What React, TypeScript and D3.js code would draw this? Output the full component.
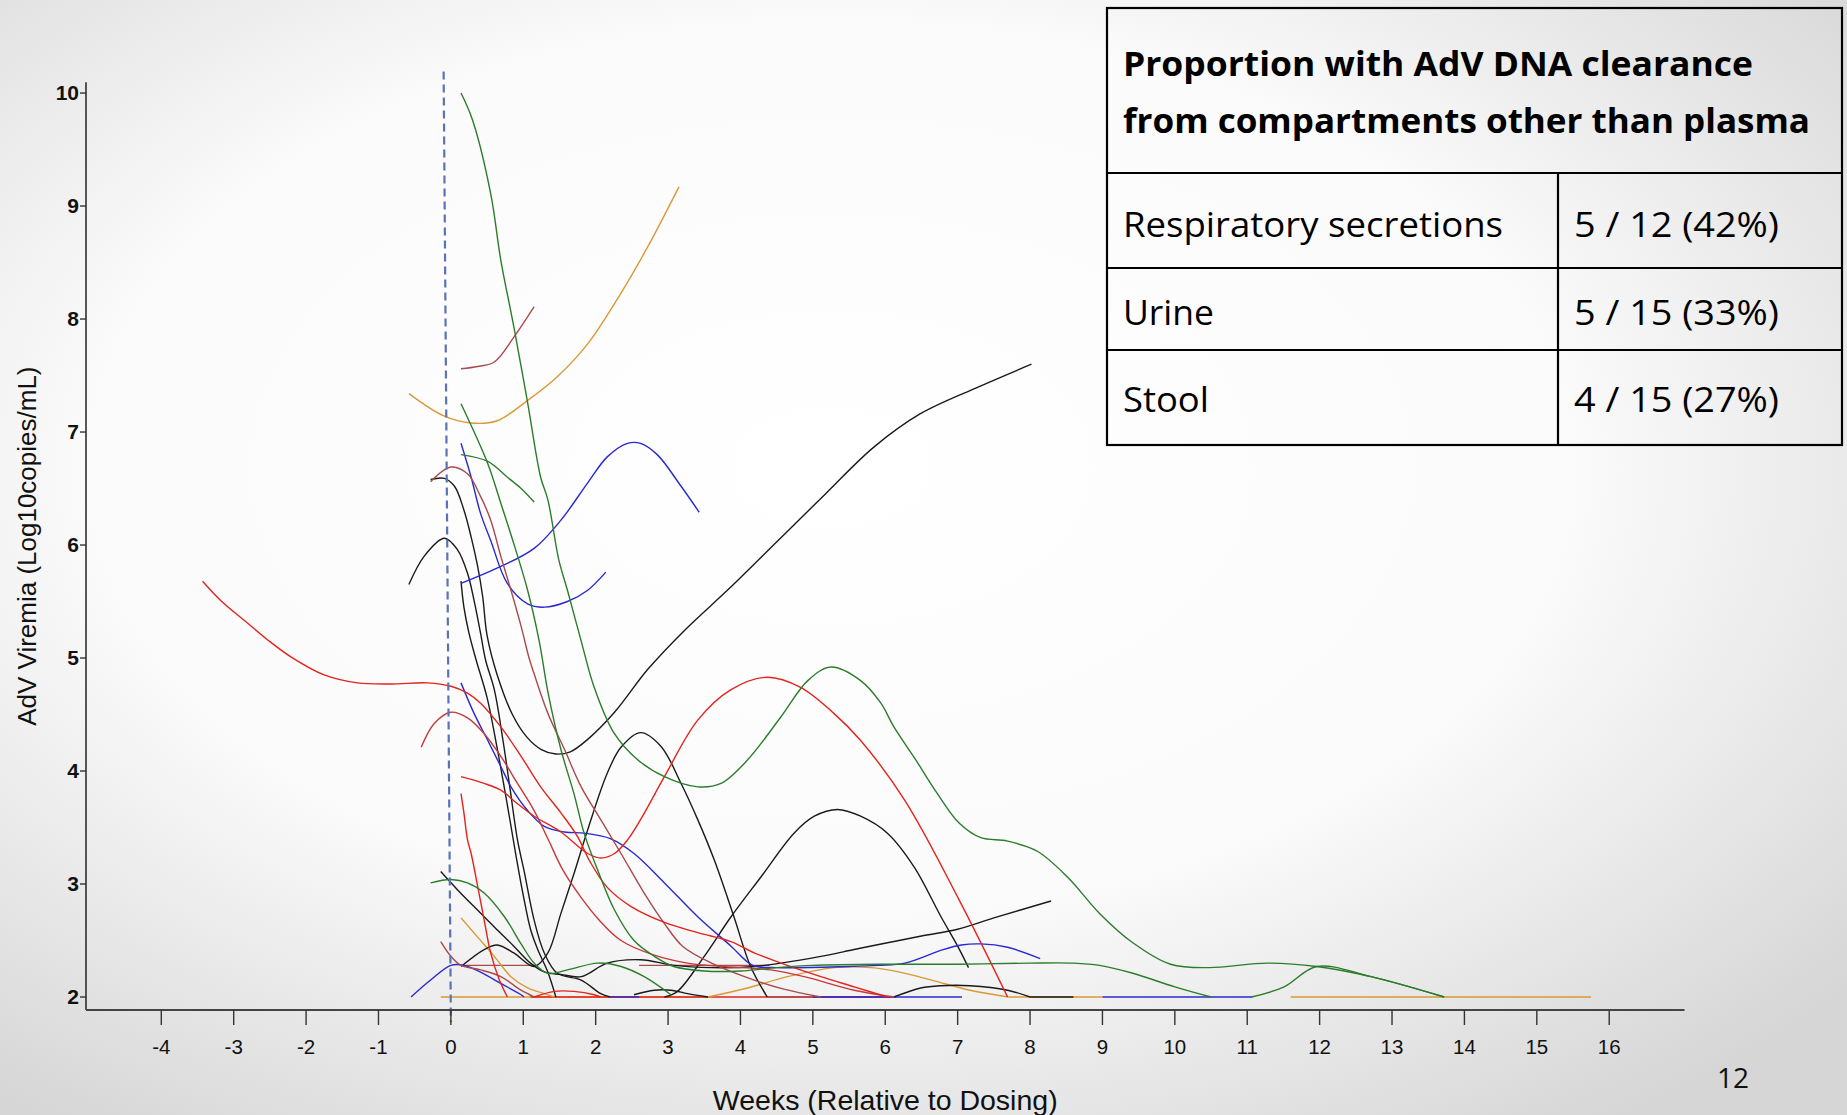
import React from 'react';
import * as d3 from 'd3';

type Pt = [number, number];

// ---------- axis ticks ----------
const weekTicks: number[] = [-4, -3, -2, -1, 0, 1, 2, 3, 4, 5, 6, 7, 8, 9, 10, 11, 12, 13, 14, 15, 16];
const viremiaTicks: number[] = [2, 3, 4, 5, 6, 7, 8, 9, 10];

// ---------- table ----------
const tableTitle: string[] = ['Proportion with AdV DNA clearance', 'from compartments other than plasma'];
const compartments: string[] = ['Respiratory secretions', 'Urine', 'Stool'];
const clearance: string[] = ['5 / 12 (42%)', '5 / 15 (33%)', '4 / 15 (27%)'];

// ---------- patient curves (week, log10 copies/mL) ----------
const greenTall: Pt[] = [[0.14,10.0],[0.3,9.76],[0.55,9.11],[0.69,8.52],[0.87,7.93],[1.06,7.26],[1.24,6.6],[1.34,6.4],[1.49,5.87],[1.61,5.6],[1.8,5.15],[1.98,4.74],[2.25,4.34],[2.58,4.1],[2.95,3.95],[3.41,3.86],[3.73,3.89],[4.1,4.1],[4.56,4.48],[4.93,4.8],[5.25,4.92],[5.66,4.8],[5.94,4.6],[6.12,4.39],[6.42,4.1],[6.72,3.8],[7.02,3.54],[7.32,3.41],[7.69,3.38],[8.1,3.29],[8.52,3.06],[8.96,2.74],[9.42,2.48],[9.94,2.29],[10.47,2.26],[11.28,2.3],[11.96,2.27],[12.71,2.18],[13.72,2.0]];
const greenFall: Pt[] = [[0.14,7.25],[0.51,6.72],[0.69,6.37],[0.87,6.01],[1.06,5.6],[1.22,5.15],[1.34,4.7],[1.52,4.19],[1.7,3.8],[1.84,3.45],[2.03,3.12],[2.26,2.77],[2.53,2.5],[2.81,2.36],[3.08,2.27],[3.5,2.23],[4.0,2.23],[4.5,2.26],[5.0,2.28],[6.0,2.29],[7.0,2.29],[8.0,2.3],[8.6,2.3],[8.96,2.28],[9.42,2.21],[10.0,2.09],[10.5,2.0]];
const greenShort: Pt[] = [[0.14,6.8],[0.51,6.74],[0.78,6.6],[0.97,6.5],[1.15,6.38]];
const greenLow: Pt[] = [[-0.28,3.01],[0,3.04],[0.23,3.01],[0.46,2.92],[0.74,2.71],[0.97,2.47],[1.15,2.3],[1.34,2.21],[1.61,2.24],[2.03,2.3],[2.35,2.27],[2.67,2.18],[3.04,2.02]];
const greenLate: Pt[] = [[11.06,2.0],[11.51,2.09],[11.96,2.27],[12.71,2.18],[13.72,2.0]];

const redLong: Pt[] = [[-3.43,5.68],[-3.18,5.51],[-2.81,5.31],[-2.53,5.16],[-2.21,5.01],[-1.75,4.85],[-1.29,4.78],[-0.83,4.77],[-0.32,4.78],[0,4.75],[0.23,4.69],[0.41,4.6],[0.69,4.39],[0.97,4.13],[1.24,3.86],[1.52,3.63],[1.75,3.42],[1.92,3.2],[2.16,2.97],[2.49,2.8],[2.95,2.66],[3.41,2.57],[3.87,2.49],[4.19,2.39],[4.56,2.3],[5.11,2.18],[5.57,2.09],[6.03,2.0]];
const redPeak: Pt[] = [[-0.41,4.21],[-0.23,4.42],[0,4.52],[0.23,4.47],[0.46,4.33],[0.69,4.13],[0.92,3.89],[1.15,3.65],[1.34,3.4],[1.55,3.12],[1.8,2.88],[2.05,2.68],[2.35,2.5],[2.81,2.37],[3.27,2.3],[3.73,2.27],[4.42,2.24],[4.88,2.18],[5.57,2.06],[6.12,2.0]];
const redHump: Pt[] = [[0.14,3.95],[0.46,3.89],[0.69,3.83],[0.92,3.71],[1.15,3.6],[1.52,3.46],[1.89,3.27],[2.07,3.23],[2.26,3.27],[2.44,3.39],[2.62,3.57],[2.95,3.95],[3.41,4.45],[3.87,4.72],[4.37,4.83],[4.83,4.74],[5.29,4.51],[5.66,4.27],[6.27,3.74],[7.02,2.86],[7.69,2.0]];
const redSteep: Pt[] = [[0.14,3.8],[0.18,3.63],[0.23,3.39],[0.28,3.27],[0.37,2.98],[0.46,2.68],[0.55,2.39],[0.67,2.15],[0.78,2.0]];
const redFloor: Pt[] = [[1.1,2.0],[6.1,2.0]];
const redBump: Pt[] = [[1.15,2.0],[1.43,2.05],[1.7,2.05],[1.98,2.02],[2.07,2.0]];

const brownRise: Pt[] = [[0.14,7.56],[0.37,7.58],[0.6,7.62],[0.87,7.84],[1.15,8.11]];
const brownPeak: Pt[] = [[-0.28,6.56],[0,6.69],[0.23,6.63],[0.41,6.43],[0.55,6.22],[0.69,5.9],[0.83,5.6],[0.97,5.28],[1.08,5.0],[1.15,4.86],[1.34,4.51],[1.57,4.19],[1.8,3.86],[2.07,3.57],[2.35,3.27],[2.67,2.92],[2.95,2.65],[3.2,2.45],[3.6,2.3],[4.19,2.15],[4.6,2.07],[5.11,2.0]];
const brownLow: Pt[] = [[-0.14,2.49],[0,2.36],[0.14,2.28],[0.41,2.24],[0.69,2.18],[0.97,2.06],[1.15,2.0]];
const brownFlatA: Pt[] = [[0.14,2.28],[1.2,2.28]];
const brownFlatB: Pt[] = [[2.6,2.28],[4.4,2.28]];
const brownFloor: Pt[] = [[4.37,2.0],[6.1,2.0]];

const blueHump: Pt[] = [[0.14,5.66],[0.69,5.81],[1.15,5.97],[1.52,6.22],[1.89,6.55],[2.16,6.78],[2.44,6.9],[2.62,6.9],[2.85,6.8],[3.18,6.52],[3.43,6.29]];
const blueDip: Pt[] = [[0.14,6.9],[0.28,6.6],[0.41,6.28],[0.55,6.04],[0.78,5.66],[1.06,5.48],[1.29,5.45],[1.61,5.5],[1.89,5.6],[2.14,5.76]];
const bluePlateau: Pt[] = [[0.14,4.78],[0.32,4.51],[0.51,4.27],[0.69,4.04],[0.83,3.86],[1.06,3.65],[1.29,3.51],[1.57,3.46],[1.84,3.45],[2.21,3.4],[2.53,3.27],[2.95,3.01],[3.41,2.71],[3.87,2.45],[4.17,2.28],[4.5,2.26],[5.5,2.27],[5.9,2.28],[6.27,2.3],[6.8,2.42],[7.05,2.46],[7.32,2.47],[7.69,2.44],[8.14,2.34]];
const blueSmall: Pt[] = [[-0.55,2.0],[-0.28,2.15],[0,2.28],[0.18,2.28],[0.41,2.22],[0.69,2.12],[0.97,2.02],[1.01,2.0]];
const blueFloorA: Pt[] = [[2.2,2.0],[2.6,2.0]];
const blueFloorB: Pt[] = [[5.0,2.0],[7.06,2.0]];
const blueFloorC: Pt[] = [[9.0,2.0],[11.07,2.0]];

const blackValley: Pt[] = [[-0.28,6.58],[-0.09,6.59],[0.05,6.52],[0.18,6.31],[0.28,6.07],[0.37,5.81],[0.44,5.54],[0.5,5.2],[0.64,4.85],[0.85,4.5],[1.05,4.3],[1.25,4.19],[1.45,4.15],[1.65,4.17],[1.89,4.28],[2.26,4.52],[2.72,4.9],[3.22,5.24],[3.87,5.63],[4.52,6.04],[5.17,6.45],[5.83,6.86],[6.48,7.16],[7.29,7.4],[8.02,7.6]];
const blackDropA: Pt[] = [[0.14,5.68],[0.18,5.45],[0.25,5.22],[0.35,4.98],[0.5,4.65],[0.64,4.2],[0.78,3.7],[0.9,3.25],[1.0,2.9],[1.1,2.6],[1.2,2.42],[1.34,2.22],[1.45,2.0]];
const blackDropB: Pt[] = [[-0.58,5.65],[-0.37,5.9],[-0.09,6.06],[0.09,5.96],[0.23,5.75],[0.32,5.51],[0.41,5.22],[0.48,4.98],[0.6,4.72],[0.72,4.27],[0.82,3.83],[0.92,3.39],[1.01,3.12],[1.15,2.68],[1.29,2.39],[1.47,2.21],[1.8,2.15],[2.07,2.03],[2.2,2.0]];
const blackTall: Pt[] = [[0.14,2.27],[0.46,2.42],[0.64,2.46],[0.87,2.39],[1.15,2.27],[1.34,2.39],[1.52,2.74],[1.7,3.09],[1.89,3.48],[2.16,3.98],[2.35,4.21],[2.62,4.34],[2.9,4.22],[3.18,3.89],[3.41,3.57],[3.64,3.21],[3.91,2.71],[4.14,2.27],[4.37,2.0]];
const blackHump: Pt[] = [[2.95,2.0],[3.13,2.05],[3.5,2.36],[3.87,2.71],[4.28,3.06],[4.74,3.45],[5.02,3.6],[5.34,3.66],[5.66,3.6],[6.03,3.45],[6.4,3.15],[6.77,2.71],[7.0,2.45],[7.15,2.26]];
const blackSmall: Pt[] = [[2.53,2.02],[2.81,2.06],[3.04,2.06],[3.27,2.03],[3.55,2.0]];
const blackLow: Pt[] = [[-0.14,3.11],[0.09,2.95],[0.32,2.8],[0.6,2.62],[0.87,2.45],[1.1,2.3],[1.3,2.22],[1.52,2.2],[1.8,2.18],[2.16,2.3],[2.62,2.33],[3.08,2.28],[3.6,2.26],[4.2,2.27],[4.56,2.3],[5.11,2.36],[5.57,2.42],[6.03,2.48],[6.5,2.54],[7.0,2.6],[7.5,2.7],[8.29,2.85]];
const blackLate: Pt[] = [[6.12,2.0],[6.49,2.08],[6.77,2.1],[7.17,2.1],[7.69,2.06],[8.0,2.0]];
const blackFloor: Pt[] = [[8.0,2.0],[8.6,2.0]];

const orangeHigh: Pt[] = [[-0.58,7.34],[-0.09,7.14],[0.28,7.08],[0.64,7.1],[1.06,7.28],[1.47,7.49],[1.89,7.78],[2.35,8.23],[2.72,8.64],[3.15,9.17]];
const orangeDecline: Pt[] = [[0.14,2.7],[0.37,2.53],[0.6,2.36],[0.83,2.18],[1.06,2.08],[1.29,2.03],[1.43,2.0]];
const orangeFloor: Pt[] = [[-0.14,2.0],[1.5,2.0],[3.55,2.0]];
const orangeWave: Pt[] = [[3.55,2.0],[4.1,2.08],[4.65,2.18],[5.3,2.26],[5.8,2.26],[6.2,2.22],[6.64,2.15],[7.17,2.06],[7.7,2.0]];
const orangeFloorB: Pt[] = [[7.7,2.0],[9.0,2.0]];
const orangeFloorC: Pt[] = [[11.6,2.0],[15.75,2.0]];

const GREEN = '#2b7d2b';
const RED = '#e3231c';
const BROWN = '#a84a4e';
const BLUE = '#2828d4';
const BLACK = '#1a1a1a';
const ORANGE = '#d89a34';

const curves: { pts: Pt[]; color: string }[] = [
  { pts: orangeFloor, color: ORANGE },
  { pts: orangeFloorB, color: ORANGE },
  { pts: orangeFloorC, color: ORANGE },
  { pts: redFloor, color: RED },
  { pts: brownFloor, color: BROWN },
  { pts: blueFloorA, color: BLUE },
  { pts: blueFloorB, color: BLUE },
  { pts: blueFloorC, color: BLUE },
  { pts: blackFloor, color: BLACK },
  { pts: brownFlatA, color: BROWN },
  { pts: brownFlatB, color: BROWN },
  { pts: orangeWave, color: ORANGE },
  { pts: orangeDecline, color: ORANGE },
  { pts: orangeHigh, color: ORANGE },
  { pts: blackLate, color: BLACK },
  { pts: blackSmall, color: BLACK },
  { pts: blackLow, color: BLACK },
  { pts: blackHump, color: BLACK },
  { pts: blackTall, color: BLACK },
  { pts: blackDropA, color: BLACK },
  { pts: blackDropB, color: BLACK },
  { pts: blackValley, color: BLACK },
  { pts: blueSmall, color: BLUE },
  { pts: bluePlateau, color: BLUE },
  { pts: blueDip, color: BLUE },
  { pts: blueHump, color: BLUE },
  { pts: brownLow, color: BROWN },
  { pts: brownPeak, color: BROWN },
  { pts: brownRise, color: BROWN },
  { pts: redBump, color: RED },
  { pts: redSteep, color: RED },
  { pts: redHump, color: RED },
  { pts: redPeak, color: '#c8383a' },
  { pts: redLong, color: RED },
  { pts: greenLate, color: GREEN },
  { pts: greenLow, color: GREEN },
  { pts: greenShort, color: GREEN },
  { pts: greenFall, color: GREEN },
  { pts: greenTall, color: GREEN },
];

export default function App() {
  const W = 1847;
  const H = 1115;
  const x = d3.scaleLinear().domain([-5.04, 17.04]).range([86, 1684.5]);
  const y = d3.scaleLinear().domain([1.885, 10.095]).range([1010, 82.3]);
  const line = d3
    .line<Pt>()
    .x((d) => x(d[0]))
    .y((d) => y(d[1]))
    .curve(d3.curveCatmullRom.alpha(0.5));

  const axisFont = "'Liberation Sans', Arial, sans-serif";
  const tableFont = "'Open Sans', 'Noto Sans', sans-serif";
  const [x0, x1] = x.range();
  const [yb, yt] = y.range();

  const tL = 1107, tR = 1842, tTop = 8, colX = 1558;
  const rowLines = [173, 268, 350, 445];
  const rowBase = [237, 325, 412];
  const leftLen = [380, 91, 86];

  return (
    <svg
      width={W}
      height={H}
      viewBox={`0 0 ${W} ${H}`}
      style={{ position: 'absolute', left: 0, top: 0, display: 'block' }}
    >
      <defs>
        <radialGradient id="bg" cx="45%" cy="42%" r="72%">
          <stop offset="0%" stopColor="#ffffff" />
          <stop offset="55%" stopColor="#fbfbfb" />
          <stop offset="100%" stopColor="#d6d6d6" />
        </radialGradient>
      </defs>
      <rect x={0} y={0} width={W} height={H} fill="url(#bg)" />

      {/* curves */}
      <g fill="none" strokeWidth={1.4} strokeLinejoin="round">
        {curves.map((c, i) => (
          <path key={i} d={line(c.pts) || ''} stroke={c.color} />
        ))}
      </g>

      {/* dosing reference line */}
      <line
        x1={x(-0.1)}
        y1={y(10.19)}
        x2={x(0)}
        y2={1022}
        stroke="#5a72b8"
        strokeWidth={2.2}
        strokeDasharray="8 5"
      />

      {/* axes */}
      <line x1={x0} y1={yb} x2={x0} y2={yt} stroke="#222" strokeWidth={1.5} />
      <line x1={x0} y1={yb} x2={x1} y2={yb} stroke="#444" strokeWidth={1.8} />
      {weekTicks.map((t) => (
        <g key={'xt' + t}>
          <line x1={x(t)} x2={x(t)} y1={yb} y2={yb + 15} stroke="#333" strokeWidth={1.4} />
          <text
            x={x(t)}
            y={1054}
            textAnchor="middle"
            fontFamily={axisFont}
            fontSize={20.5}
            fill="#111"
          >
            {t}
          </text>
        </g>
      ))}
      {viremiaTicks.map((t) => (
        <g key={'yt' + t}>
          <line x1={x0 - 6} x2={x0} y1={y(t)} y2={y(t)} stroke="#333" strokeWidth={1.4} />
          <text
            x={79}
            y={y(t) + 7}
            textAnchor="end"
            fontFamily={axisFont}
            fontSize={21}
            fontWeight="bold"
            fill="#111"
          >
            {t}
          </text>
        </g>
      ))}
      <text
        x={(x0 + x1) / 2}
        y={1110}
        textAnchor="middle"
        fontFamily={axisFont}
        fontSize={28.5}
        fill="#111"
      >
        Weeks (Relative to Dosing)
      </text>
      <text
        transform={`translate(36, ${(yb + yt) / 2}) rotate(-90)`}
        textAnchor="middle"
        fontFamily={axisFont}
        fontSize={26}
        fill="#111"
      >
        AdV Viremia (Log10copies/mL)
      </text>

      {/* table */}
      <g stroke="#000" strokeWidth={2.2} fill="none">
        <rect x={tL} y={tTop} width={tR - tL} height={rowLines[3] - tTop} />
        {rowLines.slice(0, 3).map((ry) => (
          <line key={ry} x1={tL} x2={tR} y1={ry} y2={ry} />
        ))}
        <line x1={colX} x2={colX} y1={rowLines[0]} y2={rowLines[3]} />
      </g>
      <text
        x={1123}
        y={76}
        fontFamily={tableFont}
        fontWeight="bold"
        fontSize={34}
        textLength={630}
        lengthAdjust="spacingAndGlyphs"
        fill="#000"
      >
        {tableTitle[0]}
      </text>
      <text
        x={1123}
        y={133}
        fontFamily={tableFont}
        fontWeight="bold"
        fontSize={34}
        textLength={687}
        lengthAdjust="spacingAndGlyphs"
        fill="#000"
      >
        {tableTitle[1]}
      </text>
      {compartments.map((c, i) => (
        <g key={c}>
          <text
            x={1123}
            y={rowBase[i]}
            fontFamily={tableFont}
            fontSize={34}
            textLength={leftLen[i]}
            lengthAdjust="spacingAndGlyphs"
            fill="#000"
          >
            {c}
          </text>
          <text
            x={1574}
            y={rowBase[i]}
            fontFamily={tableFont}
            fontSize={34}
            textLength={205}
            lengthAdjust="spacingAndGlyphs"
            fill="#000"
          >
            {clearance[i]}
          </text>
        </g>
      ))}

      {/* slide number */}
      <text x={1733} y={1088} textAnchor="middle" fontFamily={tableFont} fontSize={28} fill="#111">
        12
      </text>
    </svg>
  );
}
